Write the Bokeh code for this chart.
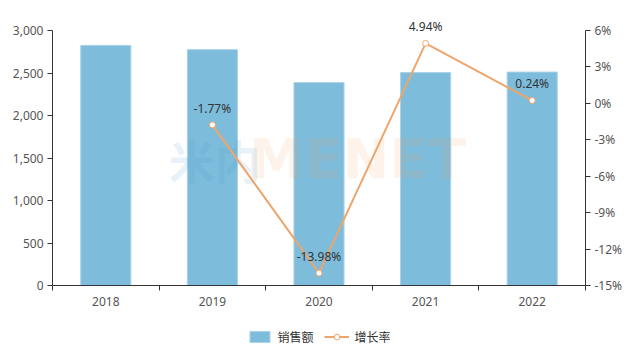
from bokeh.plotting import figure
from bokeh.layouts import column
from bokeh.models import (Range1d, LinearAxis, FixedTicker, NumeralTickFormatter,
                          PrintfTickFormatter, Legend, LegendItem, LabelSet, ColumnDataSource)
from bokeh.core.properties import value
from bokeh.embed import file_html
from bokeh.resources import INLINE

# ---- data ----
years = ["2018", "2019", "2020", "2021", "2022"]
sales = [2825, 2775, 2387, 2505, 2511]
growth_years = ["2019", "2020", "2021", "2022"]
growth = [-1.77, -13.98, 4.94, 0.24]
left_ticks = [0, 500, 1000, 1500, 2000, 2500, 3000]
right_ticks = [-15, -12, -9, -6, -3, 0, 3, 6]
series_names = ["销售额", "增长率"]

NUM_FONT = "Noto Sans"
CJK_FONT = "Noto Sans CJK SC"
TICK_COLOR = "#555555"
AXIS_COLOR = "#333333"
BAR_COLOR = "#7dbcdb"
BAR_EDGE = "#a9d3e8"
LINE_COLOR = "#eea56c"

# layout: axes span 255 px; frame extended 20 px above so the top label is not clipped
AXIS_PX = 255
EXTRA_PX = 20
scale = (AXIS_PX + EXTRA_PX) / AXIS_PX
l0, l1 = left_ticks[0], left_ticks[-1]
r0, r1 = right_ticks[0], right_ticks[-1]

xc = [years.index(y) + 0.5 for y in years]
gx = [years.index(y) + 0.5 for y in growth_years]
glabels = [f"{v:.2f}%" for v in growth]

p = figure(width=640, height=316, output_backend="svg", toolbar_location=None,
           x_range=Range1d(0, len(years)),
           y_range=Range1d(l0, l0 + (l1 - l0) * scale),
           min_border_left=52, min_border_right=55, min_border_top=30 - EXTRA_PX,
           min_border_bottom=31, x_axis_type=None, y_axis_type=None)
p.outline_line_color = None
p.background_fill_color = "white"
p.border_fill_color = "white"
p.extra_y_ranges = {"pct": Range1d(r0, r0 + (r1 - r0) * scale)}

# x axis
xaxis = LinearAxis(ticker=FixedTicker(ticks=xc, minor_ticks=list(range(len(years) + 1))))
xaxis.major_label_overrides = {x: y for x, y in zip(xc, years)}
xaxis.major_tick_line_color = None
xaxis.minor_tick_in = 0
xaxis.minor_tick_out = 5
xaxis.minor_tick_line_color = AXIS_COLOR
xaxis.axis_line_color = AXIS_COLOR
xaxis.major_label_text_font = NUM_FONT
xaxis.major_label_text_font_size = "12px"
xaxis.major_label_text_color = TICK_COLOR
xaxis.major_label_standoff = 5
p.add_layout(xaxis, "below")

# left axis
laxis = LinearAxis(ticker=FixedTicker(ticks=left_ticks), formatter=NumeralTickFormatter(format="0,0"),
                   bounds=(l0, l1))
laxis.major_tick_in = 0
laxis.major_tick_out = 5
laxis.minor_tick_line_color = None
laxis.major_tick_line_color = AXIS_COLOR
laxis.axis_line_color = AXIS_COLOR
laxis.major_label_text_font = NUM_FONT
laxis.major_label_text_font_size = "12px"
laxis.major_label_text_color = TICK_COLOR
laxis.major_label_standoff = 4
p.add_layout(laxis, "left")

# right axis
raxis = LinearAxis(y_range_name="pct", ticker=FixedTicker(ticks=right_ticks),
                   formatter=PrintfTickFormatter(format="%d%%"), bounds=(r0, r1))
raxis.major_tick_in = 0
raxis.major_tick_out = 5
raxis.minor_tick_line_color = None
raxis.major_tick_line_color = AXIS_COLOR
raxis.axis_line_color = AXIS_COLOR
raxis.major_label_text_font = NUM_FONT
raxis.major_label_text_font_size = "12px"
raxis.major_label_text_color = TICK_COLOR
raxis.major_label_standoff = 4
p.add_layout(raxis, "right")

# grid
p.ygrid.ticker = FixedTicker(ticks=left_ticks)
p.ygrid.grid_line_color = "#ebebeb"
p.xgrid.visible = False

p.vbar(x=xc, top=sales, width=0.47, fill_color=BAR_COLOR, line_color=BAR_EDGE, line_width=1)

# watermark
p.text(x=[1.09], y=[1490], text=["米内"], text_font=value(CJK_FONT), text_font_size="46px",
       text_font_style="bold", text_color="#3f95c4", text_alpha=0.14,
       text_baseline="middle", text_align="left")
p.text(x=[1.84], y=[1490], text=["MENET"], text_font=value("DejaVu Sans"), text_font_size="56px",
       text_font_style="bold", text_color="#f59a4f", text_alpha=0.12,
       text_baseline="middle", text_align="left")

p.line(x=gx, y=growth, y_range_name="pct", line_color=LINE_COLOR, line_width=2)
p.scatter(x=gx, y=growth, y_range_name="pct", size=6, fill_color="white",
          line_color=LINE_COLOR, line_width=1)

lsrc = ColumnDataSource(dict(x=gx, y=growth, t=glabels))
labels = LabelSet(x="x", y="y", text="t", source=lsrc, y_range_name="pct", y_offset=8,
                  text_font=value(NUM_FONT), text_font_size="12px", text_color="#333333",
                  text_align="center", text_baseline="bottom")
p.add_layout(labels)

# legend strip (separate figure so the legend is not clipped by the main frame);
# its proxy glyphs sit outside the strip's visible range and only feed the legend
lg = figure(width=640, height=40, output_backend="svg", toolbar_location=None,
            x_range=Range1d(0, 1), y_range=Range1d(0, 1),
            min_border=0, x_axis_type=None, y_axis_type=None)
lg.outline_line_color = None
lg.xgrid.visible = False
lg.ygrid.visible = False
lb = lg.vbar(x=[-5], top=[-5], bottom=[-6], width=0.5, fill_color=BAR_COLOR, line_color=BAR_EDGE)
ll = lg.line(x=[-6, -5], y=[-5, -5], line_color=LINE_COLOR, line_width=2)
ls = lg.scatter(x=[-5], y=[-5], size=11, fill_color="white", line_color=LINE_COLOR, line_width=1)

legend = Legend(items=[LegendItem(label=series_names[0], renderers=[lb]),
                       LegendItem(label=series_names[1], renderers=[ll, ls])],
                orientation="horizontal", location="center")
legend.glyph_width = 25
legend.glyph_height = 14
legend.label_height = 14
legend.label_standoff = 6
legend.spacing = 10
legend.padding = 0
legend.margin = 0
legend.border_line_color = None
legend.background_fill_alpha = 0
legend.label_text_font = CJK_FONT
legend.label_text_font_size = "12px"
legend.label_text_color = "#333333"
lg.add_layout(legend, "center")

layout = column(p, lg, spacing=0)

with open("out.html", "w") as f:
    f.write(file_html(layout, INLINE))
